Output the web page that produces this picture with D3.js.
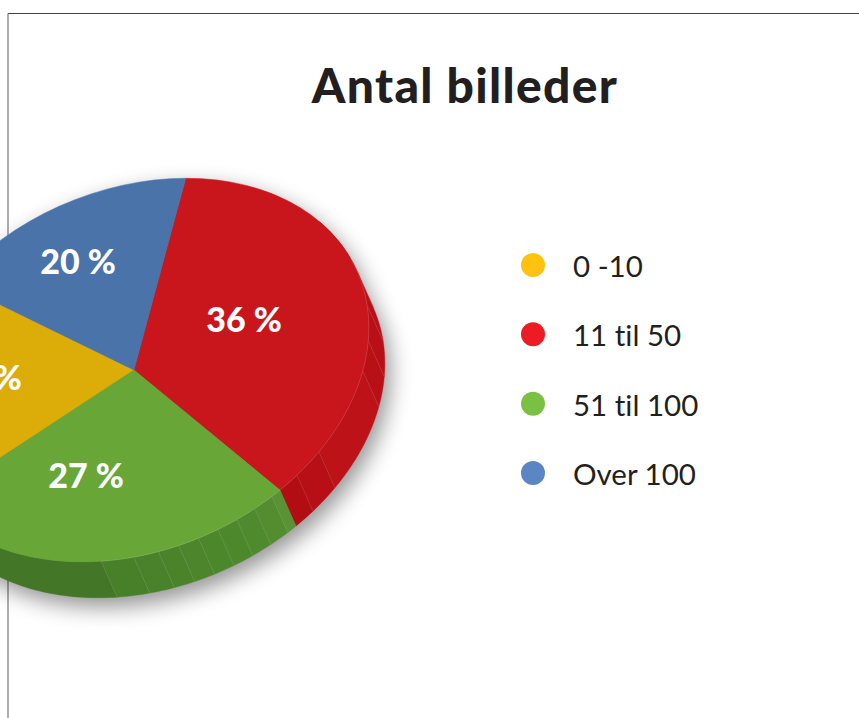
<!DOCTYPE html>
<html>
<head>
<meta charset="utf-8">
<script src="https://cdnjs.cloudflare.com/ajax/libs/d3/7.8.5/d3.min.js"></script>
<style>
html, body { margin: 0; padding: 0; background: #fff; overflow: hidden; }
text { font-family: Lato, "Open Sans", sans-serif; font-variant-ligatures: none; }
</style>
</head>
<body>
<svg id="chart"></svg>
<script>
// values
let categories = ['0 -10', '11 til 50', '51 til 100', 'Over 100']
let sliceShares = [19.7, 35.8, 27.1, 17.4]
let sliceLabels = ['17 %', '36 %', '27 %', '20 %']
let topColors = ['#dcac08', '#c8161c', '#68a638', '#4a73aa']
let legendColors = ['#ffc20e', '#ed1c24', '#7ac143', '#5b86c4']
let clockwiseOrder = [0, 3, 1, 2]

// side wall facets, degrees clockwise from the disc's top
let wallEdges = [70, 80, 90, 101, 112, 121, 146, 154, 159.5, 162, 167, 172, 177, 182, 187, 192, 198, 206, 260]
let wallColors = ['#b50f15', '#b60f15', '#b81016', '#b81016', '#b91016', '#bc1218', '#b70f15', '#b20d13',
    '#5a9335', '#548d30', '#508a2e', '#4e882d', '#4d872c', '#4c852c', '#4b832b', '#4a812b', '#48802a', '#437626']

let width = 859
let height = 718

let cx = 134, cy = 370
let rx = 244, ry = 180, tilt = -23.7
let depthX = 16, depthY = 36

let svg = d3.select('#chart').attr('width', width).attr('height', height)

let defs = svg.append('defs')
defs.append('filter').attr('id', 'soft')
    .attr('x', '-20%').attr('y', '-20%').attr('width', '140%').attr('height', '140%')
    .append('feGaussianBlur').attr('stdDeviation', 11)

// frame
svg.append('line').attr('x1', 8).attr('y1', 13.5).attr('x2', 859).attr('y2', 13.5).attr('stroke', '#444')
svg.append('line').attr('x1', 8).attr('y1', 13.5).attr('x2', 8).attr('y2', 718).attr('stroke', '#777').attr('stroke-width', 1.2)

svg.append('text').attr('x', 465).attr('y', 103)
    .attr('text-anchor', 'middle')
    .attr('font-size', 48).attr('font-weight', 900).attr('letter-spacing', 1.3).attr('fill', '#231f20')
    .text('Antal billeder')

let rad = (deg) => deg * Math.PI / 180
let cosT = Math.cos(rad(tilt)), sinT = Math.sin(rad(tilt))

// point on the disc rim, angle clockwise from top
let rim = (deg, dx = 0, dy = 0, r = 1) => {
    let u = rx * r * Math.sin(rad(deg))
    let v = -ry * r * Math.cos(rad(deg))
    return [cx + u * cosT - v * sinT + dx, cy + u * sinT + v * cosT + dy]
}

let facetPath = (a0, a1) => {
    let top = d3.range(a0, a1, 1).concat([a1]).map((a) => rim(a))
    let bottom = top.map((p, i) => [p[0] + depthX, p[1] + depthY]).reverse()
    return d3.line()(top.concat(bottom)) + 'Z'
}

let pie = d3.pie()
    .value((d) => d.share)
    .sort((a, b) => clockwiseOrder.indexOf(a.i) - clockwiseOrder.indexOf(b.i))
    .startAngle(rad(257.1))
    .endAngle(rad(257.1 + 360))

let slices = pie(categories.map((name, i) => ({ i: i, name: name, share: sliceShares[i] })))

// shadow
let shadow = svg.append('g').attr('filter', 'url(#soft)')
    .attr('transform', 'translate(5,9)')
    .attr('fill', '#000').attr('opacity', 0.42)
shadow.append('path').attr('d', facetPath(0, 360))
shadow.append('path').attr('d', d3.line()(d3.range(0, 360, 2).map((a) => rim(a, depthX, depthY))) + 'Z')
shadow.append('path').attr('d', d3.line()(d3.range(0, 360, 2).map((a) => rim(a))) + 'Z')

// side wall
let facets = wallColors.map((c, i) => ({ a0: wallEdges[i], a1: wallEdges[i + 1], color: c }))
svg.append('g').selectAll('path').data(facets).enter().append('path')
    .attr('d', (d) => facetPath(d.a0, d.a1))
    .attr('fill', (d) => d.color)
    .attr('stroke', (d) => d.color).attr('stroke-width', 0.4)

svg.append('g').selectAll('line').data(wallEdges.filter((a) => a != 159.5 && a < 210 && a > 75)).enter().append('line')
    .attr('x1', (a) => rim(a)[0]).attr('y1', (a) => rim(a)[1])
    .attr('x2', (a) => rim(a, depthX, depthY)[0]).attr('y2', (a) => rim(a, depthX, depthY)[1])
    .attr('stroke', '#fff').attr('stroke-opacity', 0.16).attr('stroke-width', 0.6)

// top of the disc
let arc = d3.arc().innerRadius(0).outerRadius(1)
let disc = svg.append('g')
    .attr('transform', `translate(${cx},${cy}) rotate(${tilt}) scale(${rx},${ry})`)
disc.selectAll('path').data(slices).enter().append('path')
    .attr('d', arc)
    .attr('fill', (d) => topColors[d.data.i])
    .attr('stroke', (d) => topColors[d.data.i])
    .attr('stroke-width', 0.5)
    .attr('vector-effect', 'non-scaling-stroke')

// thin light line along the front rim
svg.append('path')
    .attr('d', d3.line()(d3.range(85, 207, 1).map((a) => rim(a))))
    .attr('fill', 'none').attr('stroke', '#fff').attr('stroke-opacity', 0.2).attr('stroke-width', 0.6)

// percent labels
let labelAt = [[-150, 8], [110, -50], [-48, 106], [-56, -108]]
svg.append('g').selectAll('text').data(categories).enter().append('text')
    .attr('x', (d, i) => cx + labelAt[i][0])
    .attr('y', (d, i) => cy + labelAt[i][1] + 12)
    .attr('text-anchor', 'middle')
    .attr('font-size', 34).attr('font-weight', 900).attr('fill', '#fff')
    .text((d, i) => sliceLabels[i])

// legend
let legendY = d3.scalePoint().domain(categories).range([265, 473])
let legend = svg.append('g').selectAll('g').data(categories).enter().append('g')
    .attr('transform', (d) => `translate(533,${legendY(d)})`)
legend.append('circle').attr('r', 12).attr('fill', (d, i) => legendColors[i])
legend.append('text').attr('x', 40).attr('y', 12)
    .attr('font-size', 29.5).attr('fill', '#231f20')
    .text((d) => d)
</script>
</body>
</html>
